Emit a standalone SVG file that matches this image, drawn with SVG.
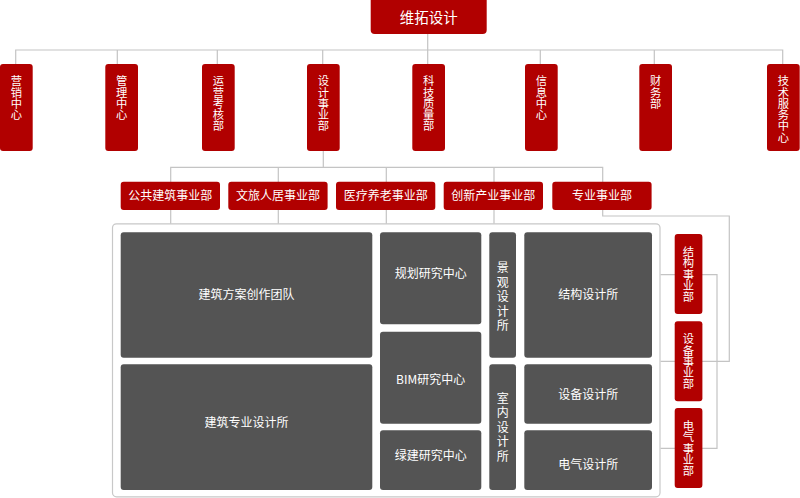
<svg xmlns="http://www.w3.org/2000/svg" width="800" height="498" viewBox="0 0 800 498">
<style>
.red{fill:#b10000}
.grey{fill:#545454}
.t{font-family:"Noto Sans CJK SC","Noto Sans",sans-serif;fill:#ffffff;text-anchor:middle}
.s12{font-size:12px}
.v{writing-mode:vertical-rl;text-anchor:start;font-size:11.3px}
.v2{writing-mode:vertical-rl;text-anchor:start;font-size:12px;letter-spacing:2.6px}
.ln{stroke:#c4c4c4;stroke-width:1.2;fill:none}
</style>
<rect x="0" y="0" width="800" height="498" fill="#ffffff"/>
<g id="connectors" class="ln">
<path d="M427.7 34 V64 M15.7 64 V50 H782.7 V64 M117.3 50 V64 M217.3 50 V64 M322.7 50 V64 M540.3 50 V64 M654.3 50 V64"/>
<path d="M323.3 151 V167.3 M170.7 224 V167.3 H602.7 V216 H729.3 V361.3 H660.5 M278.3 167.3 V224 M386.3 167.3 V224 M494 167.3 V224"/>
<path d="M660.5 274.7 H717 V448.3 H660.5"/>
</g>
<g id="root"><rect class="red" x="370.7" y="-4" width="116" height="38" rx="4"/><text class="t" x="428.7" y="22.5" font-size="14.5">维拓设计</text></g>
<g id="n1"><rect class="red" x="0" y="64" width="32.7" height="87" rx="3"/><text class="t v" x="16.3" y="75.3">营销中心</text></g>
<g id="n2"><rect class="red" x="105.3" y="64" width="32.7" height="87" rx="3"/><text class="t v" x="121.7" y="75.3">管理中心</text></g>
<g id="n3"><rect class="red" x="202" y="64" width="32.7" height="87" rx="3"/><text class="t v" x="218.3" y="75.3">运营考核部</text></g>
<g id="n4"><rect class="red" x="307" y="64" width="32.7" height="87" rx="3"/><text class="t v" x="323.3" y="75.3">设计事业部</text></g>
<g id="n5"><rect class="red" x="412.3" y="64" width="32.7" height="87" rx="3"/><text class="t v" x="428.7" y="75.3">科技质量部</text></g>
<g id="n6"><rect class="red" x="525" y="64" width="32.7" height="87" rx="3"/><text class="t v" x="541.3" y="75.3">信息中心</text></g>
<g id="n7"><rect class="red" x="639.3" y="64" width="32.7" height="87" rx="3"/><text class="t v" x="655.7" y="75.3">财务部</text></g>
<g id="n8"><rect class="red" x="767" y="64" width="32.7" height="87" rx="3"/><text class="t v" x="783.3" y="75.3">技术服务中心</text></g>
<g id="d1"><rect class="red" x="120.7" y="181.7" width="99.3" height="28.3" rx="3"/><text class="t s12" x="170.3" y="200">公共建筑事业部</text></g>
<g id="d2"><rect class="red" x="228.3" y="181.7" width="99.3" height="28.3" rx="3"/><text class="t s12" x="278" y="200">文旅人居事业部</text></g>
<g id="d3"><rect class="red" x="336" y="181.7" width="99.3" height="28.3" rx="3"/><text class="t s12" x="385.7" y="200">医疗养老事业部</text></g>
<g id="d4"><rect class="red" x="443.7" y="181.7" width="99.3" height="28.3" rx="3"/><text class="t s12" x="493.3" y="200">创新产业事业部</text></g>
<g id="d5"><rect class="red" x="552.3" y="181.7" width="99.3" height="28.3" rx="3"/><text class="t s12" x="602" y="200">专业事业部</text></g>
<g id="container"><rect x="112.5" y="223.8" width="547.5" height="273" rx="4" fill="#ffffff" stroke="#c8c8c8" stroke-width="1.2"/></g>
<g id="b1"><rect class="grey" x="120.7" y="232.3" width="251.6" height="125.4" rx="3"/><text class="t s12" x="246.5" y="299">建筑方案创作团队</text></g>
<g id="b2"><rect class="grey" x="120.7" y="364.3" width="251.6" height="125.7" rx="3"/><text class="t s12" x="246.5" y="427">建筑专业设计所</text></g>
<g id="b3"><rect class="grey" x="380" y="232.3" width="101.3" height="92" rx="3"/><text class="t s12" x="430.7" y="277.5">规划研究中心</text></g>
<g id="b4"><rect class="grey" x="380" y="331.7" width="101.3" height="92" rx="3"/><text class="t s12" x="430.7" y="384">BIM研究中心</text></g>
<g id="b5"><rect class="grey" x="380" y="430.3" width="101.3" height="59.7" rx="3"/><text class="t s12" x="430.7" y="460">绿建研究中心</text></g>
<g id="b6"><rect class="grey" x="489.3" y="232.3" width="26.7" height="125.4" rx="3"/><text class="t v2" x="502.7" y="261.5">景观设计所</text></g>
<g id="b7"><rect class="grey" x="489.3" y="364.3" width="26.7" height="125.7" rx="3"/><text class="t v2" x="502.7" y="392">室内设计所</text></g>
<g id="b8"><rect class="grey" x="524.3" y="232.3" width="127.7" height="125.4" rx="3"/><text class="t s12" x="588.2" y="299">结构设计所</text></g>
<g id="b9"><rect class="grey" x="524.3" y="364.3" width="127.7" height="59.4" rx="3"/><text class="t s12" x="588.2" y="399">设备设计所</text></g>
<g id="b10"><rect class="grey" x="524.3" y="430.3" width="127.7" height="59.7" rx="3"/><text class="t s12" x="588.2" y="469">电气设计所</text></g>
<g id="r1"><rect class="red" x="674.7" y="234" width="27.7" height="80" rx="3"/><text class="t v" x="688.5" y="246">结构事业部</text></g>
<g id="r2"><rect class="red" x="674.7" y="321.3" width="27.7" height="80" rx="3"/><text class="t v" x="688.5" y="333.3">设备事业部</text></g>
<g id="r3"><rect class="red" x="674.7" y="408" width="27.7" height="80" rx="3"/><text class="t v" x="688.5" y="420">电气事业部</text></g>
</svg>
